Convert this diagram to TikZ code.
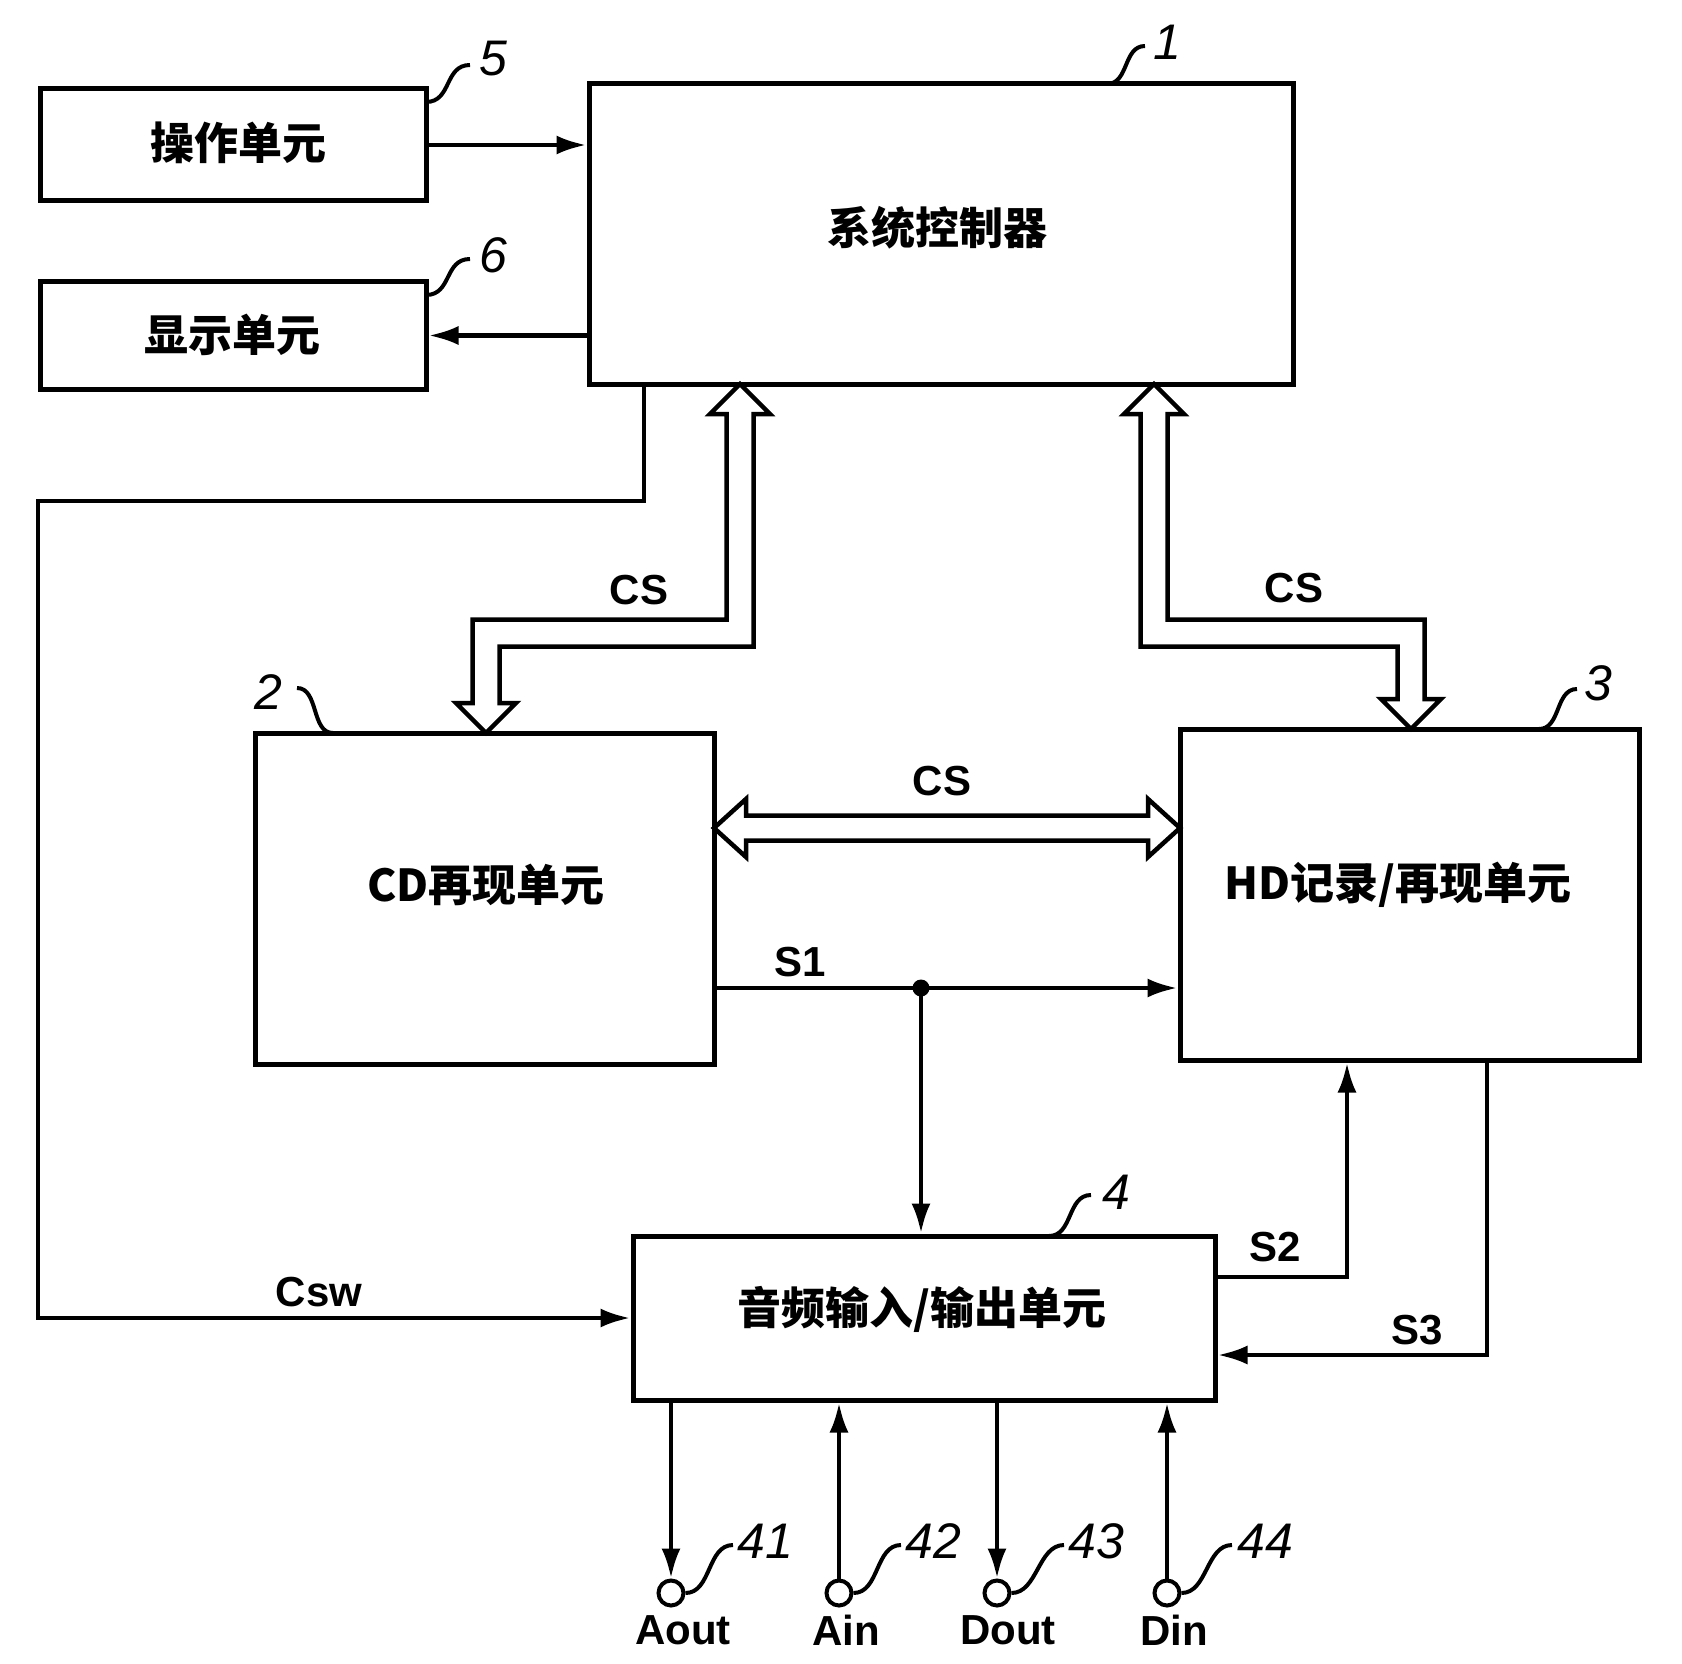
\documentclass[tikz,border=0pt]{standalone}
\usepackage{fontspec}
\setmainfont{Liberation Sans}
\newfontfamily\cjk{Noto Sans CJK SC}
\usetikzlibrary{arrows.meta,calc}
\begin{document}
\begin{tikzpicture}[x=1pt,y=-1pt,
  box/.style={draw,line width=5pt,inner sep=0pt},
  txt/.style={inner sep=0pt,font=\cjk\bfseries\fontsize{44}{48}\selectfont},
  sig/.style={inner sep=0pt,font=\bfseries\fontsize{42}{46}\selectfont},
  num/.style={inner sep=0pt,font=\itshape\fontsize{50}{54}\selectfont},
  arr/.style={line width=4.5pt,-{Latex[length=30pt,width=19pt]}},
  sq/.style={line width=4pt},
  hollow/.style={line width=4.5pt,fill=white,line join=miter},
  term/.style={draw,circle,line width=4pt,minimum size=25pt,inner sep=0pt}]

\useasboundingbox (0,0) rectangle (1682,1664);
\fill[white] (0,0) rectangle (1682,1664);

% boxes
\node[box,minimum width=704pt,minimum height=300pt] (b1) at (941,234) {};
\node[box,minimum width=386pt,minimum height=112pt] (b5) at (233,145) {};
\node[box,minimum width=386pt,minimum height=107pt] (b6) at (233,335.5) {};
\node[box,minimum width=459pt,minimum height=331pt] (b2) at (484.5,898.5) {};
\node[box,minimum width=459pt,minimum height=331pt] (b3) at (1409.5,894.5) {};
\node[box,minimum width=582pt,minimum height=164pt] (b4) at (924,1318) {};

% box texts
\node[txt] (t1) at (937,228) {系统控制器};
\node[txt] (t5) at (238,143) {操作单元};
\node[txt] (t6) at (232,335) {显示单元};
\node[txt] (t2) at (486,885) {CD再现单元};
\node[txt] (t3) at (1398,885) {HD记录/再现单元};
\node[txt] (t4) at (922,1309) {音频输入/输出单元};

% reference numbers
\node[num] (n1) at (1167,42) {1};
\node[num] (n5) at (493,59) {5};
\node[num] (n6) at (493,255) {6};
\node[num] (n2) at (268,692) {2};
\node[num] (n3) at (1598,683) {3};
\node[num] (n4) at (1116,1192) {4};
\node[num] (n41) at (765,1541) {41};
\node[num] (n42) at (933,1541) {42};
\node[num] (n43) at (1096,1541) {43};
\node[num] (n44) at (1265,1541) {44};

% leader squiggles
\draw[sq] (1107,84) .. controls +(22,0) and +(-22,0) .. (1145,46);
\draw[sq] (426,102) .. controls +(26,0) and +(-26,0) .. (470,65);
\draw[sq] (426,295) .. controls +(26,0) and +(-26,0) .. (470,259);
\draw[sq] (297,688) .. controls +(22,0) and +(-22,0) .. (333,733);
\draw[sq] (1539,729) .. controls +(22,0) and +(-22,0) .. (1577,689);
\draw[sq] (1049,1236) .. controls +(24,0) and +(-24,0) .. (1091,1195);

% terminals
\node[term] (c41) at (671,1593) {};
\node[term] (c42) at (839,1593) {};
\node[term] (c43) at (997,1593) {};
\node[term] (c44) at (1167,1593) {};
\node[sig] (l41) at (683,1630) {Aout};
\node[sig] (l42) at (846,1630) {Ain};
\node[sig] (l43) at (1008,1630) {Dout};
\node[sig] (l44) at (1174,1630) {Din};

\draw[sq] (c41.east) .. controls +(26,0) and +(-26,0) .. (733,1545);
\draw[sq] (c42.east) .. controls +(26,0) and +(-26,0) .. (901,1545);
\draw[sq] (c43.east) .. controls +(26,0) and +(-26,0) .. (1064,1545);
\draw[sq] (c44.east) .. controls +(26,0) and +(-26,0) .. (1232,1545);

\draw[arr] (b4.south -| c41) -- (c41.north);
\draw[arr] (c42.north) -- (b4.south -| c42);
\draw[arr] (b4.south -| c43) -- (c43.north);
\draw[arr] (c44.north) -- (b4.south -| c44);

% operation / display
\draw[arr] (b5.east) -- (b5.east -| b1.west);
\draw[arr] (b1.west |- b6.east) -- (b6.east);

% Csw
\coordinate (cw1) at (644,501);
\coordinate (cw2) at (38,501);
\draw[arr] (b1.south -| cw1) -- (cw1) -- (cw2) |- (b4.west);
\node[sig] (lcsw) at (319,1292) {Csw};

% hollow bus arrows
\draw[hollow] (740,384) -- (770,414) -- (753.5,414) -- (753.5,646.5) -- (499.5,646.5)
  -- (499.5,703) -- (516,703) -- (486,733) -- (456,703) -- (472.5,703) -- (472.5,619.5)
  -- (726.5,619.5) -- (726.5,414) -- (710,414) -- cycle;
\draw[hollow] (1154,384) -- (1184,414) -- (1167.5,414) -- (1167.5,619.5) -- (1424.5,619.5)
  -- (1424.5,699) -- (1441,699) -- (1411,729) -- (1381,699) -- (1397.5,699) -- (1397.5,646.5)
  -- (1140.5,646.5) -- (1140.5,414) -- (1124,414) -- cycle;
\draw[hollow] (714,828) -- (746,799) -- (746,815.5) -- (1148,815.5) -- (1148,799)
  -- (1180,828) -- (1148,857) -- (1148,840.5) -- (746,840.5) -- (746,857) -- cycle;
\node[sig] (lcs1) at (639,590) {CS};
\node[sig] (lcs2) at (1294,588) {CS};
\node[sig] (lcs3) at (942,781) {CS};

% S1
\coordinate (s1) at (921,988);
\draw[arr] (b2.east |- s1) -- (b3.west |- s1);
\fill (s1) circle (8.5);
\draw[arr] (s1) -- (s1 |- b4.north);
\node[sig] (ls1) at (800,962) {S1};

% S2
\coordinate (s2) at (1347,1277);
\draw[arr] (b4.east |- s2) -- (s2) -- (s2 |- b3.south);
\node[sig] (ls2) at (1275,1247) {S2};

% S3
\coordinate (s3) at (1487,1355);
\draw[arr] (s3 |- b3.south) -- (s3) -- (b4.east |- s3);
\node[sig] (ls3) at (1417,1330) {S3};
\end{tikzpicture}
\end{document}
